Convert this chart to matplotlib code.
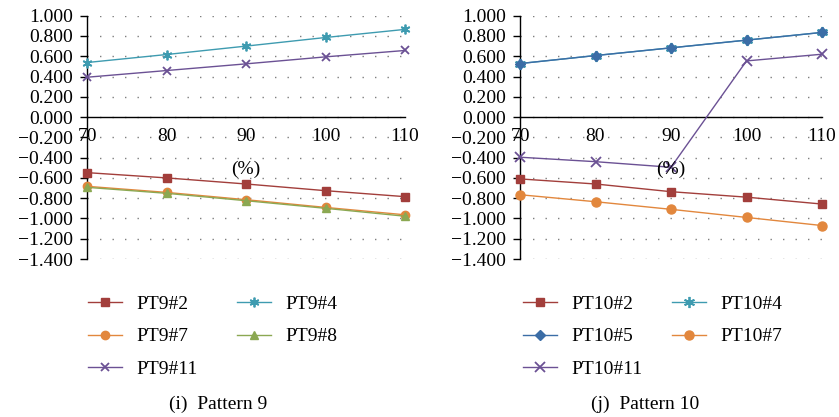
import matplotlib
matplotlib.use('Agg')
import matplotlib.pyplot as plt
from matplotlib.ticker import FuncFormatter, MultipleLocator

plt.rcParams['font.family'] = ['Liberation Serif', 'DejaVu Serif']

# ---------------------------------------------------------------
# data
# ---------------------------------------------------------------
load_pct = [70, 80, 90, 100, 110]

pt9_2 = [-0.548, -0.600, -0.660, -0.726, -0.785]
pt9_4 = [0.538, 0.617, 0.700, 0.785, 0.865]
pt9_7 = [-0.683, -0.743, -0.815, -0.891, -0.964]
pt9_8 = [-0.693, -0.752, -0.825, -0.900, -0.978]
pt9_11 = [0.393, 0.459, 0.525, 0.594, 0.657]

pt10_2 = [-0.610, -0.660, -0.736, -0.790, -0.858]
pt10_4 = [0.528, 0.607, 0.683, 0.759, 0.835]
pt10_5 = [0.528, 0.607, 0.683, 0.759, 0.835]
pt10_7 = [-0.766, -0.835, -0.910, -0.990, -1.070]
pt10_11 = [-0.396, -0.440, -0.495, 0.554, 0.620]

RED = '#A23E3B'
TEAL = '#3E9BB0'
ORANGE = '#E2873D'
GREEN = '#8BA852'
PURPLE = '#6B5194'
BLUE = '#3B6DA6'

# (label, values, color, marker, markersize)
pattern9 = [
    ('PT9#2', pt9_2, RED, 's', 6.0),
    ('PT9#4', pt9_4, TEAL, (6, 2, 0), 7.0),
    ('PT9#7', pt9_7, ORANGE, 'o', 6.0),
    ('PT9#8', pt9_8, GREEN, '^', 6.0),
    ('PT9#11', pt9_11, PURPLE, 'x', 6.0),
]
pattern10 = [
    ('PT10#2', pt10_2, RED, 's', 6.0),
    ('PT10#4', pt10_4, TEAL, (6, 2, 0), 8.0),
    ('PT10#5', pt10_5, BLUE, 'D', 5.0),
    ('PT10#7', pt10_7, ORANGE, 'o', 6.5),
    ('PT10#11', pt10_11, PURPLE, 'x', 6.5),
]

W, H = 839, 417
fig = plt.figure(figsize=(W / 100, H / 100), dpi=100)


def fig_rect(x0, x1, ytop, ybot):
    return [x0 / W, 1 - ybot / H, (x1 - x0) / W, (ybot - ytop) / H]


def draw_panel(ax, series, legend_order, leg_x, colspace, caption, cap_x):
    handles = {}
    for label, vals, color, marker, ms in series:
        mew = 1.3 if marker in ('x', (6, 2, 0)) else 1.0
        ln, = ax.plot(load_pct, vals, color=color, lw=1.0, marker=marker,
                      ms=ms, mew=mew, mec=color, mfc=color, clip_on=False,
                      zorder=3, label=label)
        handles[label] = ln

    ax.set_xlim(70, 110)
    ax.set_ylim(-1.4, 1.0)
    ax.yaxis.set_major_locator(MultipleLocator(0.2))
    ax.yaxis.set_major_formatter(
        FuncFormatter(lambda v, p: f'{v:.3f}'.replace('-', '\u2212')))
    ax.set_xticks(load_pct)
    ax.spines['top'].set_visible(False)
    ax.spines['right'].set_visible(False)
    ax.spines['bottom'].set_position(('data', 0))
    ax.spines['left'].set_linewidth(1.0)
    ax.spines['bottom'].set_linewidth(1.0)
    ax.tick_params(axis='y', direction='out', length=5, width=1.0,
                   labelsize=14, pad=5)
    ax.tick_params(axis='x', length=0, labelsize=14, pad=8)
    for t in ax.get_xticklabels():
        t.set_zorder(5)
    ax.grid(axis='y', color='#7f7f7f', lw=1.0, linestyle=(0, (1, 8)))
    ax.set_axisbelow(True)
    ax.text(90, -0.52, '(%)', ha='center', va='center', fontsize=14,
            zorder=5)

    fig.legend([handles[k] for k in legend_order], legend_order,
               loc='upper left', bbox_to_anchor=(leg_x / W, 1 - 295 / H),
               ncol=2, frameon=False, fontsize=14, borderpad=0,
               borderaxespad=0, handlelength=1.75, handletextpad=0.75,
               labelspacing=0.78, columnspacing=colspace)
    fig.text(cap_x / W, 1 - 404 / H, caption, ha='center', va='center',
             fontsize=14)


ax1 = fig.add_axes(fig_rect(87, 405, 15.7, 259))
ax2 = fig.add_axes(fig_rect(520, 822, 15.7, 259))

draw_panel(ax1, pattern9, ['PT9#2', 'PT9#7', 'PT9#11', 'PT9#4', 'PT9#8'],
           88, 2.0, '(i)  Pattern 9', 218)
draw_panel(ax2, pattern10, ['PT10#2', 'PT10#5', 'PT10#11', 'PT10#4', 'PT10#7'],
           523, 1.5, '(j)  Pattern 10', 645)

fig.savefig('out.png', dpi=100)
